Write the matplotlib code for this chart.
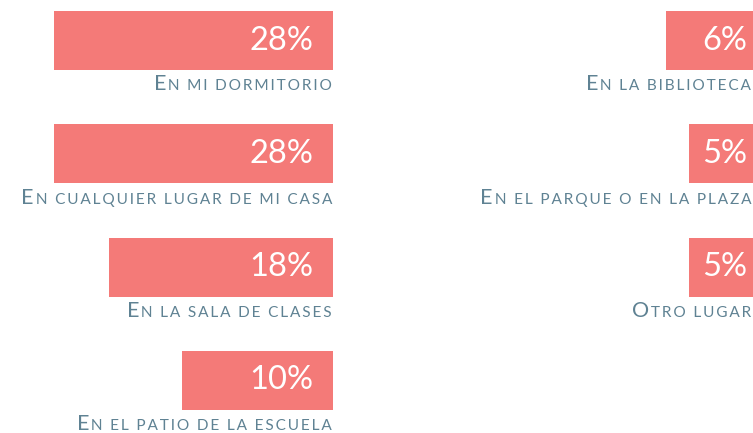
import matplotlib.pyplot as plt

# data
left_labels = ['En mi dormitorio', 'En cualquier lugar de mi casa',
               'En la sala de clases', 'En el patio de la escuela']
left_values = [28, 28, 18, 10]
right_labels = ['En la biblioteca', 'En el parque o en la plaza', 'Otro lugar']
right_values = [6, 5, 5]

bar_color = '#f47a78'
text_color = '#5f8293'
plt.rcParams['font.family'] = ['Lato', 'DejaVu Sans']
THIN = '\u2009'

fig = plt.figure(figsize=(7.53, 4.33), dpi=100)
ax_l = fig.add_axes([0, 0, 333 / 753, 1])
ax_r = fig.add_axes([420 / 753, 0, 333 / 753, 1])


def draw_column(ax, labels, values, pct_pad, lab_pad):
    rows = list(range(len(values)))
    ax.barh(rows, values, height=0.52, left=0, color=bar_color)
    ax.set_xscale('log')
    ax.set_xlim(43.0, 3.0)
    ax.set_ylim(3.464, -0.357)
    ax.axis('off')
    for i, (lab, v) in enumerate(zip(labels, values)):
        ax.annotate(f'{v}%', xy=(1, i + 0.08), xycoords=('axes fraction', 'data'),
                    xytext=(-pct_pad, 0), textcoords='offset points',
                    ha='right', va='baseline', color='white', fontsize=23.5,
                    annotation_clip=False)
        # small caps, letter-spaced: first letter big, the rest small capitals
        rest = THIN + THIN.join(lab[1:].upper())
        small = ax.annotate(rest, xy=(1, i + 0.44),
                            xycoords=('axes fraction', 'data'),
                            xytext=(-lab_pad, 0), textcoords='offset points',
                            ha='right', va='baseline', color=text_color, fontsize=11.1,
                            annotation_clip=False)
        ax.annotate(lab[0].upper(), xy=(0, i + 0.44), xycoords=(small, 'data'),
                    ha='right', va='baseline', color=text_color, fontsize=15.5,
                    annotation_clip=False)


draw_column(ax_l, left_labels, left_values, 14.4, 0.7)
draw_column(ax_r, right_labels, right_values, 4.3, 1.4)

fig.savefig('out.png', dpi=100)
